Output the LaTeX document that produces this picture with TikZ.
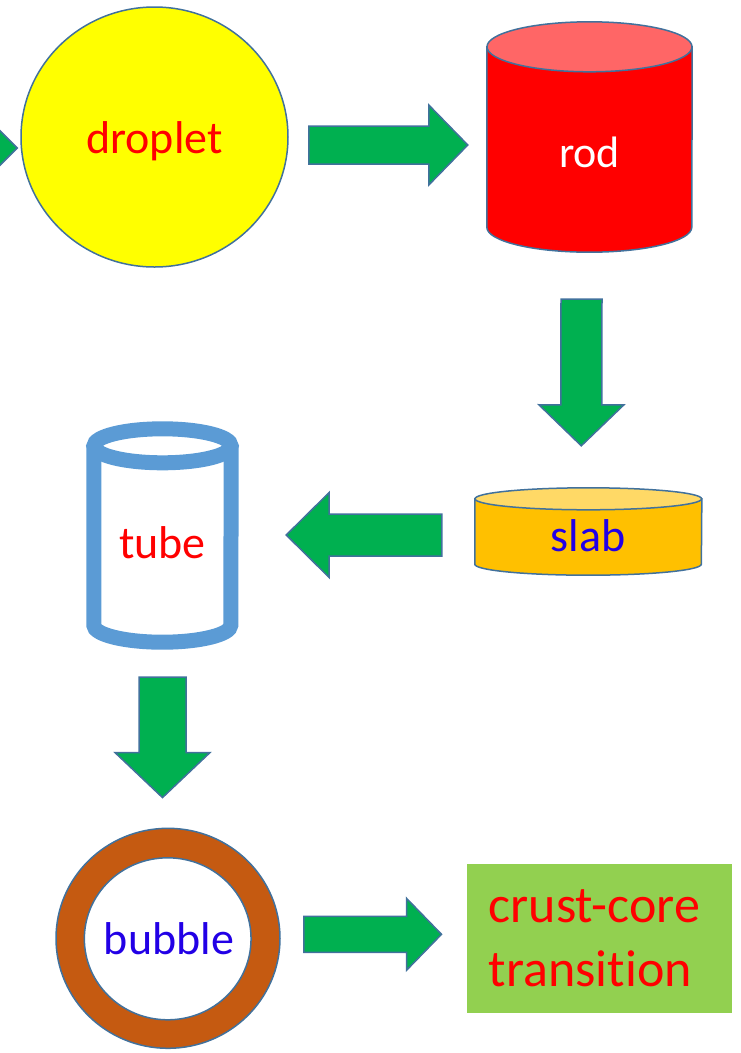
\documentclass[tikz,border=0pt]{standalone}
\usepackage{fontspec}
\setmainfont{Carlito}[Ligatures=NoCommon]
\usepackage{tikz}
\usetikzlibrary{calc, shapes.geometric, positioning}

\definecolor{edgeblue}{HTML}{41719C}
\definecolor{arrowgreen}{HTML}{00B050}
\definecolor{dropyellow}{HTML}{FFFF00}
\definecolor{rodred}{HTML}{FF0000}
\definecolor{rodtop}{HTML}{FF6666}
\definecolor{slabfill}{HTML}{FFC000}
\definecolor{slabtop}{HTML}{FFD966}
\definecolor{tubeblue}{HTML}{5B9BD5}
\definecolor{ringbrown}{HTML}{C55A11}
\definecolor{boxgreen}{HTML}{92D050}
\definecolor{txtblue}{HTML}{2200E6}

\tikzset{
  shapebox/.style={rectangle, inner sep=0pt},
  lbl/.style={anchor=base, inner sep=0pt, font=\fontsize{46}{55}\selectfont},
  edge line/.style={draw=edgeblue, line width=1.5pt},
  % block arrow: half shaft, half head, head length
  blockarrow/.style n args={3}{edge line, fill=arrowgreen, line join=miter,
    to path={($(\tikztostart)!#1!90:(\tikztotarget)$)
      -- ($(\tikztotarget)!#3!(\tikztostart)!#1!90:(\tikztotarget)$)
      -- ($(\tikztotarget)!#3!(\tikztostart)!#2!90:(\tikztotarget)$)
      -- (\tikztotarget)
      -- ($(\tikztotarget)!#3!(\tikztostart)!#2!-90:(\tikztotarget)$)
      -- ($(\tikztotarget)!#3!(\tikztostart)!#1!-90:(\tikztotarget)$)
      -- ($(\tikztostart)!#1!-90:(\tikztotarget)$)
      -- cycle}},
}

\begin{document}
\begin{tikzpicture}[x=1pt, y=-1pt]
\useasboundingbox (0,0) rectangle (741,1053);

% droplet
\node[ellipse, edge line, fill=dropyellow, inner sep=0pt, minimum width=267pt, minimum height=260pt] (droplet) at (154.5,137) {};
\node[lbl, text=rodred] (droplet-txt) at ([yshift=-16pt]droplet.center) {droplet};

% rod
\node[shapebox, minimum width=205pt, minimum height=230pt] (rod) at (589.5,137) {};
\draw[edge line, fill=rodred] ([yshift=-25pt]rod.north west) -- ([yshift=25pt]rod.south west)
  arc[start angle=180, end angle=360, x radius=102.5pt, y radius=25pt]
  -- ([yshift=-25pt]rod.north east) -- cycle;
\draw[edge line, fill=rodtop] ([yshift=-25pt]rod.north) ellipse [x radius=102.5pt, y radius=25pt];
\node[lbl, text=white, font=\fontsize{44}{53}\selectfont] (rod-txt) at ([yshift=-30pt]rod.center) {rod};

% slab
\node[shapebox, minimum width=226.7pt, minimum height=87pt] (slab) at (588.3,531.5) {};
\draw[edge line, fill=slabfill] ([yshift=-11pt]slab.north west) -- ([yshift=11pt]slab.south west)
  arc[start angle=180, end angle=360, x radius=113.3pt, y radius=11pt]
  -- ([yshift=-11pt]slab.north east) -- cycle;
\draw[edge line, fill=slabtop] ([yshift=-11pt]slab.north) ellipse [x radius=113.3pt, y radius=11pt];
\node[lbl, text=txtblue] (slab-txt) at ([yshift=-20pt]slab.center) {slab};

% tube
\node[shapebox, minimum width=137pt, minimum height=213pt] (tube) at (162.5,535.5) {};
\draw[tubeblue, line width=15pt] ([yshift=-17pt]tube.north west) -- ([yshift=17pt]tube.south west)
  arc[start angle=180, end angle=360, x radius=68.5pt, y radius=17pt]
  -- ([yshift=-17pt]tube.north east);
\draw[tubeblue, line width=15pt] ([yshift=-17pt]tube.north) ellipse [x radius=68.5pt, y radius=17pt];
\node[lbl, text=rodred] (tube-txt) at ([yshift=-22.5pt]tube.center) {tube};

% bubble
\node[ellipse, edge line, fill=ringbrown, inner sep=0pt, minimum width=224pt, minimum height=220pt] (bubble) at (168,938.3) {};
\node[ellipse, edge line, fill=white, inner sep=0pt, minimum width=166.7pt, minimum height=162pt] (bubble-in) at (167.7,938.8) {};
\node[lbl, text=txtblue] (bubble-txt) at ([yshift=-16pt,xshift=1pt]bubble.center) {bubble};

% crust-core transition
\node[rectangle, fill=boxgreen, text=rodred, align=left, text width=221pt, inner xsep=22pt, inner ysep=0pt,
  minimum height=149pt, font=\fontsize{52}{64}\selectfont] (cc) at (599.2,938.3) {crust-core\\transition};

% arrow ends
\coordinate (a0s) at (-80,148);
\coordinate (a0e) at ($(droplet.west)+(-3,11)$);
\coordinate (a1s) at ($(droplet.east)+(20,8)$);
\coordinate (a1e) at ($(rod.west)+(-19,8)$);
\coordinate (a2s) at ($(rod.south)+(-8,47)$);
\coordinate (a2e) at ($(slab.north)+(-7,-42)$);
\coordinate (a3s) at ($(slab.west)+(-33,3.5)$);
\coordinate (a3e) at ($(tube.east)+(55,-0.5)$);
\coordinate (a4s) at ($(tube.south)+(0,35)$);
\coordinate (a4e) at ($(bubble.north)+(-5.5,-30)$);
\coordinate (a5s) at ($(bubble.east)+(23,-4)$);
\coordinate (a5e) at ($(cc.west)+(-25,-4)$);

% the block arrows
\draw[blockarrow={20pt}{40pt}{40pt}] (a0s) to (a0e);
\draw[blockarrow={19pt}{40pt}{39pt}] (a1s) to (a1e);
\draw[blockarrow={20.5pt}{42.5pt}{41pt}] (a2s) to (a2e);
\draw[blockarrow={21pt}{42.5pt}{43pt}] (a3s) to (a3e);
\draw[blockarrow={23.5pt}{47.5pt}{45pt}] (a4s) to (a4e);
\draw[blockarrow={18pt}{36pt}{35pt}] (a5s) to (a5e);
\end{tikzpicture}
\end{document}
